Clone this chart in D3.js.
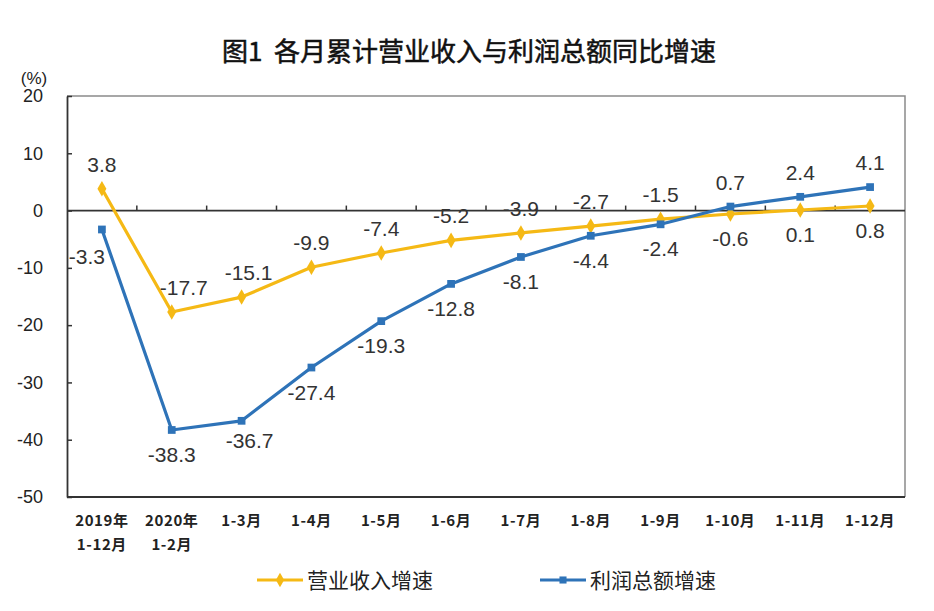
<!DOCTYPE html>
<html>
<head>
<meta charset="utf-8">
<script src="https://cdn.jsdelivr.net/npm/d3@7/dist/d3.min.js"></script>
<style>
  html, body { margin: 0; padding: 0; background: #fff; }
  svg { display: block; }
</style>
</head>
<body>
<svg id="chart" width="934" height="611"></svg>
<script>
// ---- data ----
const title = "图1  各月累计营业收入与利润总额同比增速";
const unitLabel = "(%)";
const categories = ["2019年\n1-12月", "2020年\n1-2月", "1-3月", "1-4月", "1-5月", "1-6月", "1-7月", "1-8月", "1-9月", "1-10月", "1-11月", "1-12月"];
const seriesNames = ["营业收入增速", "利润总额增速"];
const revenueGrowth = [3.8, -17.7, -15.1, -9.9, -7.4, -5.2, -3.9, -2.7, -1.5, -0.6, 0.1, 0.8];
const profitGrowth = [-3.3, -38.3, -36.7, -27.4, -19.3, -12.8, -8.1, -4.4, -2.4, 0.7, 2.4, 4.1];
const yTicks = [20, 10, 0, -10, -20, -30, -40, -50];

(function () {
// ---- layout ----
const svg = d3.select("#chart");
const pL = 67, pR = 905, pT = 96, pB = 497;
const colors = ["#F5B915", "#2E73B8"];
const numFont = "'Liberation Sans', Arial, sans-serif";
const cjkFont = "'Noto Sans CJK SC', 'Noto Sans', sans-serif";

const x = d3.scaleBand().domain(categories).range([pL, pR]);
const y = d3.scaleLinear().domain([-50, 20]).range([pB, pT]);

// title
svg.append("text")
  .attr("x", 469).attr("y", 61)
  .attr("text-anchor", "middle")
  .attr("font-family", cjkFont)
  .attr("font-size", 26)
  .attr("font-weight", 400)
  .attr("stroke", "#111").attr("stroke-width", 0.5)
  .attr("fill", "#111")
  .style("white-space", "pre")
  .text(title);

// unit label
svg.append("text")
  .attr("x", 34).attr("y", 84)
  .attr("text-anchor", "middle")
  .attr("font-family", numFont)
  .attr("font-size", 17)
  .attr("fill", "#222")
  .text(unitLabel);

// plot frame (top & right lighter)
svg.append("path")
  .attr("d", `M${pL},${pT}H${pR}V${pB}`)
  .attr("fill", "none").attr("stroke", "#8a8a8a").attr("stroke-width", 1.5);
svg.append("path")
  .attr("d", `M${pL},${pB}H${pR}`)
  .attr("fill", "none").attr("stroke", "#333").attr("stroke-width", 1.8);

// y axis
const yAxis = d3.axisLeft(y).tickValues(yTicks).tickFormat(d => String(d))
  .tickSizeInner(-5).tickSizeOuter(0).tickPadding(24);
const yg = svg.append("g").attr("transform", `translate(${pL},0)`).call(yAxis);
yg.select(".domain").attr("stroke", "#333").attr("stroke-width", 1.8);
yg.selectAll(".tick line").attr("stroke", "#333").attr("stroke-width", 1.5);
yg.selectAll(".tick text")
  .attr("font-family", "'Liberation Sans Narrow', 'Liberation Sans', Arial, sans-serif")
  .attr("font-size", 18).attr("fill", "#222");

// zero line with upward ticks at band boundaries
const zeroY = y(0);
svg.append("line")
  .attr("x1", pL).attr("x2", pR).attr("y1", zeroY).attr("y2", zeroY)
  .attr("stroke", "#333").attr("stroke-width", 1.8);
svg.append("g").selectAll("line")
  .data(categories.slice(1))
  .join("line")
  .attr("x1", d => x(d)).attr("x2", d => x(d))
  .attr("y1", zeroY).attr("y2", zeroY - 5)
  .attr("stroke", "#333").attr("stroke-width", 1.5);

// category labels
const catG = svg.append("g");
categories.forEach(c => {
  const lines = c.split("\n");
  const t = catG.append("text")
    .attr("x", x(c) + x.bandwidth() / 2)
    .attr("y", 526)
    .attr("text-anchor", "middle")
    .attr("font-family", cjkFont)
    .attr("font-size", 15)
    .attr("font-weight", 700)
    .attr("letter-spacing", 0.6)
    .attr("fill", "#222");
  lines.forEach((ln, i) => {
    t.append("tspan")
      .attr("x", x(c) + x.bandwidth() / 2)
      .attr("dy", i === 0 ? 0 : 24)
      .text(ln);
  });
});

// series
const series = [revenueGrowth, profitGrowth];
const cx = i => x(categories[i]) + x.bandwidth() / 2;
const line = d3.line().x((d, i) => cx(i)).y(d => y(d));

series.forEach((vals, s) => {
  svg.append("path")
    .datum(vals)
    .attr("d", line)
    .attr("fill", "none")
    .attr("stroke", colors[s])
    .attr("stroke-width", 3.2)
    .attr("stroke-linejoin", "round");
  const sym = d3.symbol().type(s === 0 ? d3.symbolDiamond : d3.symbolSquare).size(s === 0 ? 70 : 60);
  svg.append("g").selectAll("path")
    .data(vals)
    .join("path")
    .attr("transform", (d, i) => `translate(${cx(i)},${y(d)})`)
    .attr("d", sym)
    .attr("fill", colors[s]);
});

// data labels: placed on the side away from the other series
const nudge = { "1-0": [-15, 3], "0-1": [12, 0], "0-2": [7, 0], "1-2": [8, -5] };
series.forEach((vals, s) => {
  const other = series[1 - s];
  svg.append("g").selectAll("text")
    .data(vals)
    .join("text")
    .attr("x", (d, i) => cx(i) + ((nudge[s + "-" + i] || [0, 0])[0]))
    .attr("y", (d, i) => {
      const above = d > other[i];
      return y(d) + (above ? -17 : 32) + ((nudge[s + "-" + i] || [0, 0])[1]);
    })
    .attr("text-anchor", "middle")
    .attr("font-family", numFont)
    .attr("font-size", 21)
    .attr("fill", "#333")
    .text(d => d.toFixed(1));
});

// legend
const legend = [
  { name: seriesNames[0], color: colors[0], x1: 257, x2: 303, sym: d3.symbolDiamond, size: 60 },
  { name: seriesNames[1], color: colors[1], x1: 540, x2: 586, sym: d3.symbolSquare, size: 50 }
];
const ly = 580;
legend.forEach(l => {
  svg.append("line")
    .attr("x1", l.x1).attr("x2", l.x2).attr("y1", ly).attr("y2", ly)
    .attr("stroke", l.color).attr("stroke-width", 3.2);
  svg.append("path")
    .attr("transform", `translate(${(l.x1 + l.x2) / 2},${ly})`)
    .attr("d", d3.symbol().type(l.sym).size(l.size))
    .attr("fill", l.color);
  svg.append("text")
    .attr("x", l.x2 + 4).attr("y", ly + 8)
    .attr("font-family", cjkFont)
    .attr("font-size", 21)
    .attr("fill", "#222")
    .text(l.name);
});
})();
</script>
</body>
</html>
